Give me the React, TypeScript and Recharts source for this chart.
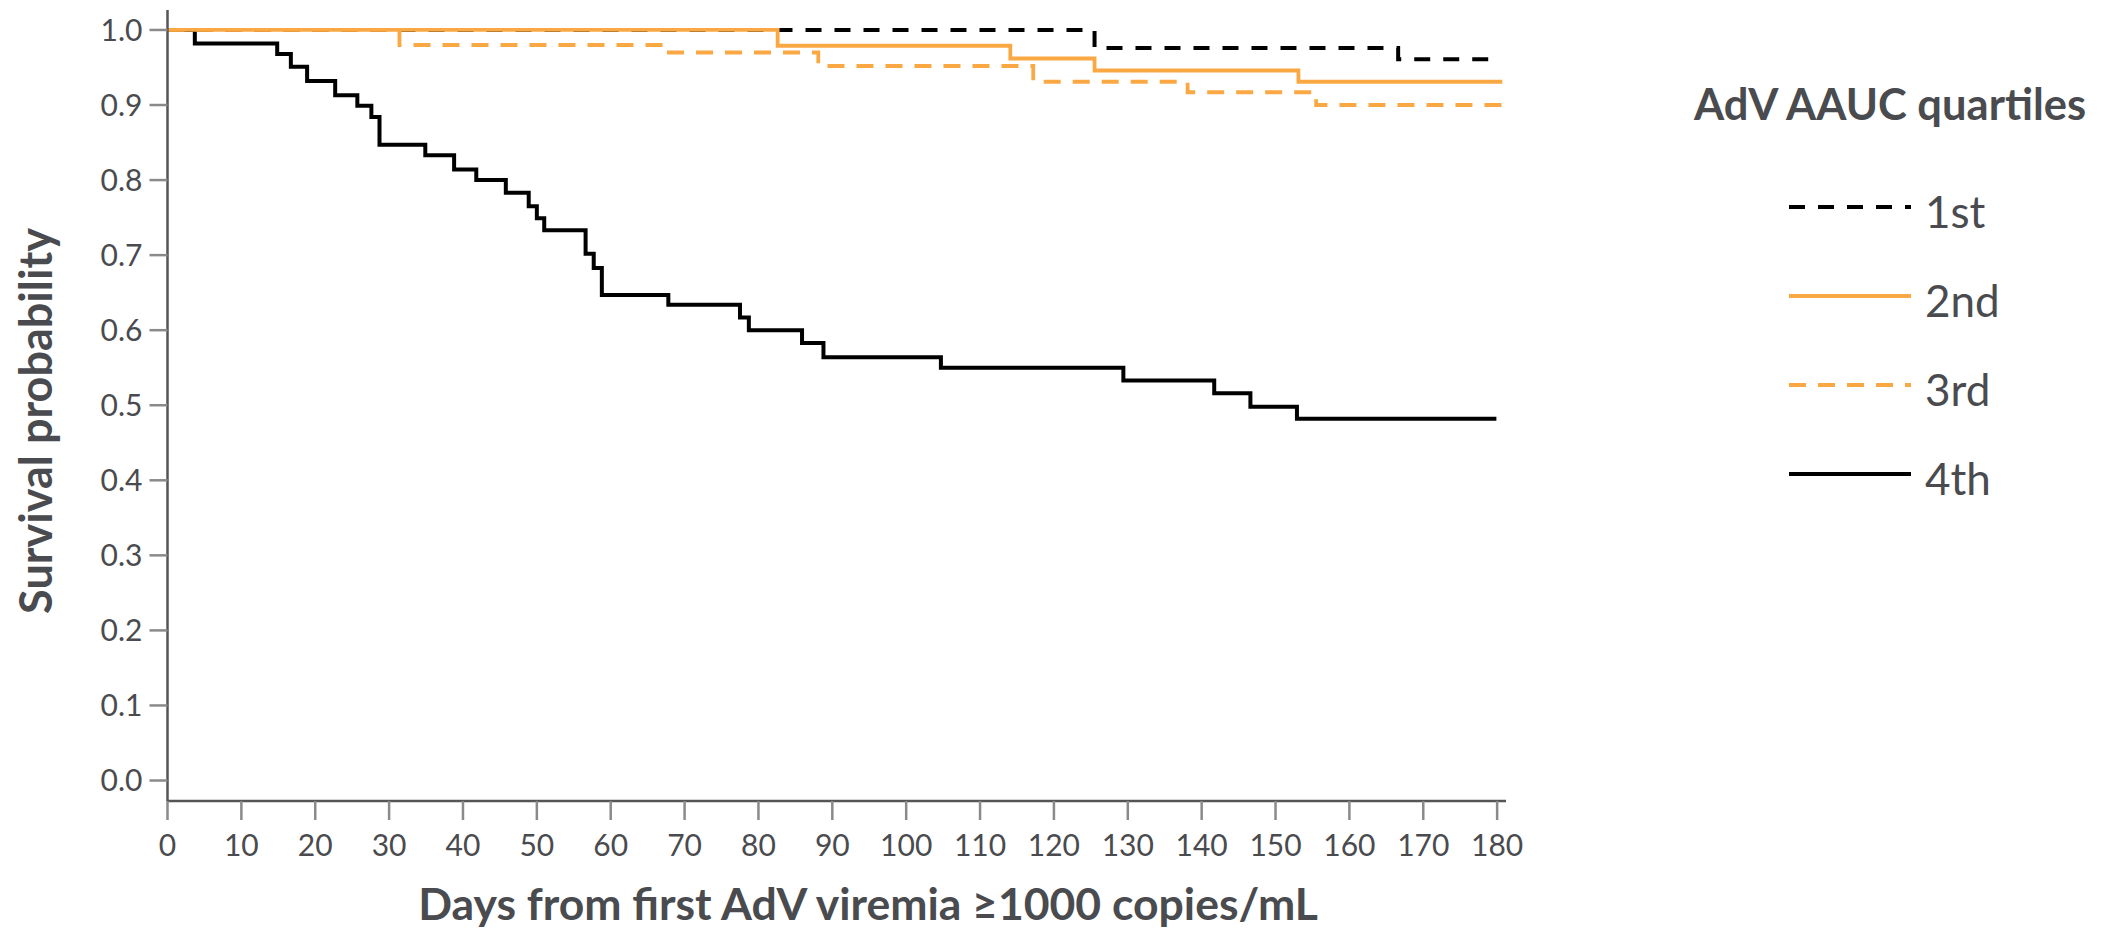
import React from "react";
import { LineChart, Line, XAxis, YAxis, Legend, Label } from "recharts";

// ---- Data ----
const xTicks = [0, 10, 20, 30, 40, 50, 60, 70, 80, 90, 100, 110, 120, 130, 140, 150, 160, 170, 180];
const yTicks = [0, 0.1, 0.2, 0.3, 0.4, 0.5, 0.6, 0.7, 0.8, 0.9, 1.0];

const q1Days = [0, 125.5, 166.6, 180.5];
const q1Surv = [1.0, 0.976, 0.961, 0.961];

const q2Days = [0, 82.6, 114.1, 125.5, 153.1, 180.7];
const q2Surv = [1.0, 0.979, 0.962, 0.946, 0.931, 0.931];

const q3Days = [0, 31.4, 67.6, 88.1, 117.2, 138.1, 155.5, 181.2];
const q3Surv = [1.0, 0.98, 0.97, 0.952, 0.931, 0.917, 0.9, 0.9];

const q4Days = [0, 3.7, 14.85, 16.7, 18.9, 22.7, 25.7, 27.6, 28.7, 34.9, 38.8, 41.8, 45.8, 48.9, 50.0, 51.0, 56.6, 57.7, 58.8, 67.8, 77.5, 78.7, 85.9, 88.8, 104.7, 129.4, 141.7, 146.6, 152.9, 179.9];
const q4Surv = [1.0, 0.982, 0.968, 0.951, 0.932, 0.913, 0.899, 0.884, 0.847, 0.833, 0.814, 0.8, 0.783, 0.765, 0.749, 0.733, 0.702, 0.683, 0.647, 0.634, 0.617, 0.6, 0.583, 0.564, 0.55, 0.533, 0.516, 0.498, 0.482, 0.482];

const legendTitle = "AdV AAUC quartiles";
const seriesNames = ["1st", "2nd", "3rd", "4th"];

const xTitle = "Days from first AdV viremia \u22651000 copies/mL";
const yTitle = "Survival probability";

const toPoints = (days: number[], surv: number[]) => days.map((t, i) => ({ t, s: surv[i] }));

const ORANGE = "#FAA843";
const BLACK = "#000000";
const TEXT = "#4a4b4f";
const FONT = "Lato, 'Open Sans', sans-serif";

const seriesStyle: Record<string, { color: string; dash?: string; width: number }> = {
  "1st": { color: BLACK, dash: "16 13", width: 4 },
  "2nd": { color: ORANGE, width: 3.8 },
  "3rd": { color: ORANGE, dash: "17 12", width: 3.8 },
  "4th": { color: BLACK, width: 4 },
};

const LegendContent = () => (
  <svg width={440} height={460} style={{ display: "block", overflow: "visible" }}>
    <text x={14} y={60} fill={TEXT} fontFamily={FONT} fontWeight={700} fontSize={43.5}>
      {legendTitle}
    </text>
    {seriesNames.map((n, i) => {
      const st = seriesStyle[n];
      const y = 147 + i * 89;
      return (
        <g key={n}>
          <line x1={109} x2={231} y1={y} y2={y} stroke={st.color} strokeWidth={4} strokeDasharray={st.dash} />
          <text x={245} y={y + 21} fill={TEXT} fontFamily={FONT} fontSize={44}>
            {n}
          </text>
        </g>
      );
    })}
  </svg>
);

export default function App() {
  return (
    <div style={{ position: "absolute", left: 0, top: 0, width: 2120, height: 928, background: "#fff" }}>
      <LineChart width={2120} height={928} margin={{ top: 10, right: 614, bottom: 0, left: 0 }}>
        <XAxis
          type="number"
          dataKey="t"
          domain={[0, 181.2]}
          ticks={xTicks}
          interval={0}
          allowDataOverflow
          height={127}
          tickSize={19}
          tickMargin={15}
          axisLine={{ stroke: "#555558", strokeWidth: 2.5 }}
          tickLine={{ stroke: "#8a8a8c", strokeWidth: 2.5 }}
          tick={{ fill: TEXT, fontSize: 30, fontFamily: FONT }}
        >
          <Label
            content={() => (
              <text x={868} y={920} textAnchor="middle" fill={TEXT} fontFamily={FONT} fontWeight={700} fontSize={44.5}>
                {xTitle}
              </text>
            )}
          />
        </XAxis>
        <YAxis
          type="number"
          dataKey="s"
          domain={[-0.0273, 1.0266]}
          ticks={yTicks}
          interval={0}
          allowDataOverflow
          width={167.5}
          tickSize={18}
          tickMargin={7}
          tickFormatter={(v: number) => v.toFixed(1)}
          axisLine={{ stroke: "#555558", strokeWidth: 2.5 }}
          tickLine={{ stroke: "#8a8a8c", strokeWidth: 2.5 }}
          tick={{ fill: TEXT, fontSize: 30, fontFamily: FONT }}
        >
          <Label
            content={() => (
              <text
                transform="translate(52,421) rotate(-90)"
                textAnchor="middle"
                fill={TEXT}
                fontFamily={FONT}
                fontWeight={700}
                fontSize={45}
              >
                {yTitle}
              </text>
            )}
          />
        </YAxis>
        <Legend
          layout="horizontal"
          verticalAlign="middle"
          align="center"
          content={() => <LegendContent />}
          wrapperStyle={{ position: "absolute", left: 1680, top: 60, width: 440, height: 460 }}
        />
        <Line
          data={toPoints(q4Days, q4Surv)}
          dataKey="s"
          name="4th"
          type="stepAfter"
          stroke={seriesStyle["4th"].color}
          strokeWidth={seriesStyle["4th"].width}
          dot={false}
          activeDot={false}
          isAnimationActive={false}
        />
        <Line
          data={toPoints(q1Days, q1Surv)}
          dataKey="s"
          name="1st"
          type="stepAfter"
          stroke={seriesStyle["1st"].color}
          strokeWidth={seriesStyle["1st"].width}
          strokeDasharray={seriesStyle["1st"].dash}
          dot={false}
          activeDot={false}
          isAnimationActive={false}
        />
        <Line
          data={toPoints(q3Days, q3Surv)}
          dataKey="s"
          name="3rd"
          type="stepAfter"
          stroke={seriesStyle["3rd"].color}
          strokeWidth={seriesStyle["3rd"].width}
          strokeDasharray={seriesStyle["3rd"].dash}
          dot={false}
          activeDot={false}
          isAnimationActive={false}
        />
        <Line
          data={toPoints(q2Days, q2Surv)}
          dataKey="s"
          name="2nd"
          type="stepAfter"
          stroke={seriesStyle["2nd"].color}
          strokeWidth={seriesStyle["2nd"].width}
          dot={false}
          activeDot={false}
          isAnimationActive={false}
        />
      </LineChart>
    </div>
  );
}
